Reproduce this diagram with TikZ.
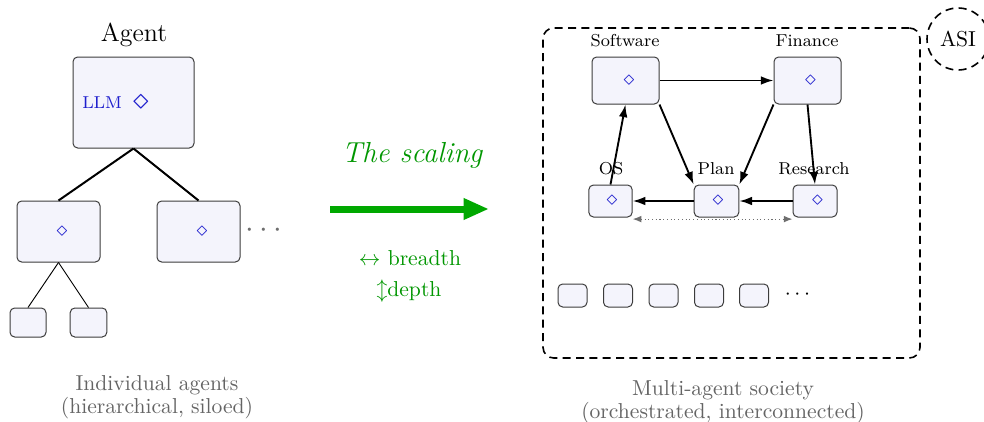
\documentclass[tikz,border=0pt]{standalone}
\usetikzlibrary{arrows.meta}
\definecolor{boxfill}{RGB}{244,244,252}
\definecolor{boxdraw}{RGB}{60,60,60}
\definecolor{llmblue}{RGB}{30,30,205}
\definecolor{arrowgreen}{RGB}{0,168,0}
\definecolor{textgreen}{RGB}{0,150,0}
\definecolor{capgray}{RGB}{100,100,100}
\definecolor{dotgray}{RGB}{110,110,110}
\newcommand{\sbx}[1]{\scalebox{1.62}{#1}}
\begin{document}
\begin{tikzpicture}[x=0.75pt,y=-0.75pt,
  abox/.style={draw=boxdraw,fill=boxfill,rounded corners=3.5pt,line width=0.75pt,inner sep=0pt},
  dia/.style={text=llmblue,inner sep=0pt},
  lbl/.style={anchor=base,inner sep=0pt},
  tree/.style={line width=1.5pt},
  thin tree/.style={line width=0.7pt},
  net/.style={line width=1.4pt,-{Latex[length=9.5pt,width=6.5pt]}},
  peer/.style={draw=dotgray,dotted,line width=0.8pt,{Latex[length=6.5pt,width=5pt]}-{Latex[length=6.5pt,width=5pt]}},
  region/.style={draw,dashed,dash pattern=on 6pt off 4pt,line width=1.2pt,inner sep=0pt},
  captxt/.style={text=capgray,inner sep=0pt}
]
\useasboundingbox (0,0) rectangle (984,421);

% ---------- left: individual agent ----------
\node[lbl] (agentlbl) at (134,41.7) {\sbx{\large Agent}};
\node[abox,minimum width=90.75pt,minimum height=68.25pt] (agent) at (133.5,102.5) {};
\node[anchor=base west,inner sep=0pt,text=llmblue] (llm) at (82,108) {\sbx{\footnotesize LLM}};
\node[dia] (llmd) at (141,102.5) {\sbx{\fontsize{15.5}{18}\selectfont$\diamond$}};

\node[abox,minimum width=62.25pt,minimum height=45.75pt] (c1) at (58.5,231.5) {};
\node[abox,minimum width=62.25pt,minimum height=45.75pt] (c2) at (198.5,231.5) {};
\node[dia] (c1d) at (62,231.5) {\sbx{$\diamond$}};
\node[dia] (c2d) at (202,231.5) {\sbx{$\diamond$}};
\node[text=dotgray,inner sep=0pt] (ldots) at (264,231) {\sbx{\Large$\cdots$}};

\node[abox,minimum width=27pt,minimum height=21.75pt] (g1) at (28,322.5) {};
\node[abox,minimum width=27.5pt,minimum height=21.75pt] (g2) at (88.5,322.5) {};

\draw[tree] (agent.south) -- (c1.north);
\draw[tree] (agent.south) -- (c2.north);
\draw[thin tree] (c1.south) -- (g1.north);
\draw[thin tree] (c1.south) -- (g2.north);

\node[captxt] (capL) at (157,397) {\sbx{\begin{tabular}{@{}c@{}}Individual agents\\[-1.3pt](hierarchical, siloed)\end{tabular}}};

% ---------- middle: scaling arrow ----------
\node[lbl,text=textgreen] (scal) at (412,162) {\sbx{\fontsize{13.4}{15}\selectfont\itshape The scaling}};
\coordinate (sA) at (330,209);
\coordinate (sB) at (489,209);
\draw[arrowgreen,line width=5.25pt,-{Triangle[length=19pt,width=15pt]}] (sA) -- (sB);
\node[lbl,text=textgreen] (breadth) at (410,265) {\sbx{$\leftrightarrow$ breadth}};
\node[lbl,text=textgreen] (depth) at (409,296.7) {\sbx{$\updownarrow$depth}};

% ---------- right: multi-agent society ----------
\node[region,rounded corners=8pt,minimum width=282.75pt,minimum height=247.5pt] (soc) at (731.5,193) {};
\node[region,circle,minimum size=46.5pt] (asi) at (958,39) {\sbx{ASI}};

\node[abox,minimum width=50.25pt,minimum height=35.25pt] (sw) at (625.5,80.5) {};
\node[abox,minimum width=50.25pt,minimum height=35.25pt] (fin) at (807.5,80.5) {};
\node[abox,minimum width=32.5pt,minimum height=24pt] (os) at (610.5,201) {};
\node[abox,minimum width=33.5pt,minimum height=24pt] (plan) at (716.5,201) {};
\node[abox,minimum width=33pt,minimum height=24pt] (res) at (815,201) {};

\node[dia] (swd) at (629,81) {\sbx{$\diamond$}};
\node[dia] (find) at (810.5,81) {\sbx{$\diamond$}};
\node[dia] (osd) at (612,201) {\sbx{$\diamond$}};
\node[dia] (pland) at (718,201) {\sbx{$\diamond$}};
\node[dia] (resd) at (817.5,201) {\sbx{$\diamond$}};

\node[lbl] (swl) at (625,46.5) {\sbx{\footnotesize Software}};
\node[lbl] (finl) at (807,46.5) {\sbx{\footnotesize Finance}};
\node[lbl] (osl) at (611,174.5) {\sbx{\footnotesize OS}};
\node[lbl] (planl) at (716,174.5) {\sbx{\footnotesize Plan}};
\node[lbl] (resl) at (814,174.5) {\sbx{\footnotesize Research}};

\draw[net] (sw.east) -- (fin.west);
\draw[net] (sw.south east) -- (plan.north west);
\draw[net] (fin.south west) -- (plan.north east);
\draw[net] (fin.south) -- (res.north);
\draw[net] (res.west) -- (plan.east);
\draw[net] (plan.west) -- (os.east);
\draw[net] (os.north) -- (sw.south);
\draw[peer] ([yshift=-1.2pt]os.south east) -- ([yshift=-1.2pt]res.south west);

\node[abox,minimum width=21.75pt,minimum height=17.25pt] (r1) at (572.5,295.5) {};
\node[abox,minimum width=21.75pt,minimum height=17.25pt] (r2) at (618,295.5) {};
\node[abox,minimum width=21.75pt,minimum height=17.25pt] (r3) at (663.5,295.5) {};
\node[abox,minimum width=21.75pt,minimum height=17.25pt] (r4) at (709,295.5) {};
\node[abox,minimum width=21.75pt,minimum height=17.25pt] (r5) at (754,295.5) {};
\node[inner sep=0pt] (rdots) at (797.5,295) {\sbx{$\cdots$}};

\node[captxt] (capR) at (723,401.5) {\sbx{\begin{tabular}{@{}c@{}}Multi-agent society\\[-1.3pt](orchestrated, interconnected)\end{tabular}}};
\end{tikzpicture}
\end{document}
